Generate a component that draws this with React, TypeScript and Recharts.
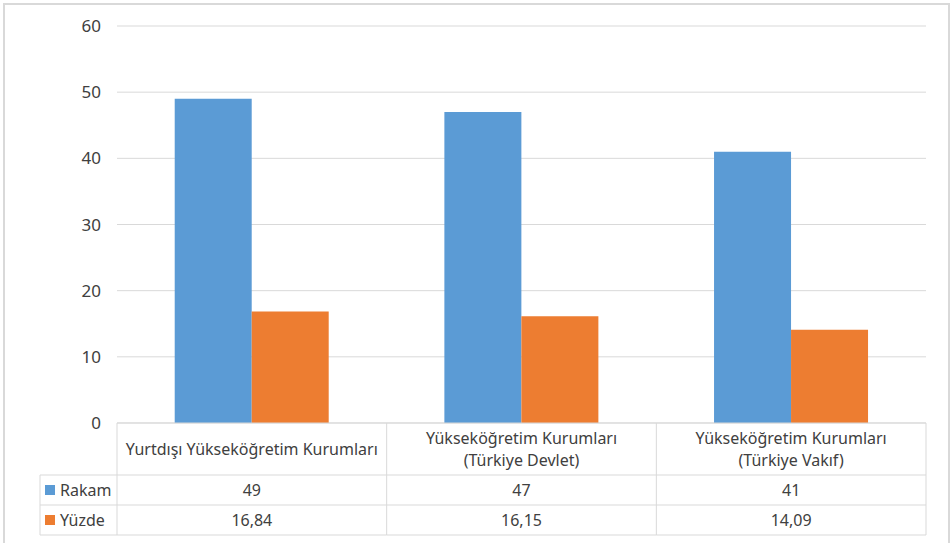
import React from "react";
import {Bar, BarChart, CartesianGrid, XAxis, YAxis} from "recharts";

const categories = [
    ["Yurtdışı Yükseköğretim Kurumları"],
    ["Yükseköğretim Kurumları", "(Türkiye Devlet)"],
    ["Yükseköğretim Kurumları", "(Türkiye Vakıf)"],
];
const rakam = [49, 47, 41];
const yuzde = [16.84, 16.15, 14.09];
const yTicks = [0, 10, 20, 30, 40, 50, 60];

const series = [
    {key: "rakam", name: "Rakam", color: "#5b9bd5"},
    {key: "yuzde", name: "Yüzde", color: "#ed7d31"},
];

const data = categories.map((lines, i) => ({
    name: lines.join(" "),
    lines,
    rakam: rakam[i],
    yuzde: yuzde[i],
}));

const FONT = "'Noto Sans', sans-serif";
const TEXT = "#404040";
const LINE = "#d9d9d9";

const fmt = (v: number) => String(v).replace(".", ",");

// table rows under the axis: header 52px, two value rows 30px each
const HEAD_H = 52;
const ROW_H = 30;
const LABEL_LEFT = 40;

function TableTick(props: any) {
    const {x, y, payload, index} = props;
    const half = payload.offset;
    const left = x - half;
    const right = x + half;
    const item = data[index];
    const top = y;
    const r1 = top + HEAD_H;
    const r2 = r1 + ROW_H;
    const r3 = r2 + ROW_H;
    const lines: string[] = item.lines;
    const first = index === 0;
    return (
        <g fontFamily={FONT} fontSize={16} fill={TEXT}>
            {/* header label */}
            {lines.map((t, i) => (
                <text key={i} x={x} y={top + HEAD_H / 2 + (i - (lines.length - 1) / 2) * 22}
                      textAnchor="middle" dominantBaseline="central">{t}</text>
            ))}
            {/* values */}
            <text x={x} y={r1 + ROW_H / 2} textAnchor="middle" dominantBaseline="central">
                {fmt(item.rakam)}
            </text>
            <text x={x} y={r2 + ROW_H / 2} textAnchor="middle" dominantBaseline="central">
                {fmt(item.yuzde)}
            </text>
            {/* cell borders */}
            <line x1={right} y1={top} x2={right} y2={r3} stroke={LINE}/>
            {first && <line x1={left} y1={top} x2={left} y2={r3} stroke={LINE}/>}
            {[r1, r2, r3].map((yy) => (
                <line key={yy} x1={first ? LABEL_LEFT : left} y1={yy} x2={right} y2={yy} stroke={LINE}/>
            ))}
            {first && (
                <g>
                    <line x1={LABEL_LEFT} y1={r1} x2={LABEL_LEFT} y2={r3} stroke={LINE}/>
                    {series.map((s, i) => (
                        <g key={s.key}>
                            <rect x={LABEL_LEFT + 5} y={r1 + i * ROW_H + 10} width={10} height={10} fill={s.color}/>
                            <text x={LABEL_LEFT + 20} y={r1 + i * ROW_H + ROW_H / 2}
                                  dominantBaseline="central">{s.name}</text>
                        </g>
                    ))}
                </g>
            )}
        </g>
    );
}

export default function App() {
    return (
        <div style={{position: "absolute", left: 0, top: 0, width: 950, height: 543, background: "#fff", overflow: "hidden"}}>
            <div style={{position: "absolute", left: 3, top: 3, width: 943, height: 560, border: `2px solid ${LINE}`}}/>
            <BarChart width={950} height={543} data={data}
                      margin={{top: 26, right: 24, bottom: 0, left: 0}}
                      barCategoryGap="21.4%" barGap={0}>
                <CartesianGrid vertical={false} stroke={LINE}/>
                <YAxis domain={[0, 60]} ticks={yTicks} width={117}
                       axisLine={false} tickLine={false} tickMargin={10}
                       tick={{fill: TEXT, fontSize: 17, fontFamily: FONT}}/>
                <XAxis dataKey="name" height={120} interval={0}
                       axisLine={{stroke: LINE}} tickLine={false} tickSize={0} tickMargin={0}
                       tick={<TableTick/>}/>
                {series.map((s) => (
                    <Bar key={s.key} dataKey={s.key} name={s.name} fill={s.color}
                         isAnimationActive={false}/>
                ))}
            </BarChart>
        </div>
    );
}
